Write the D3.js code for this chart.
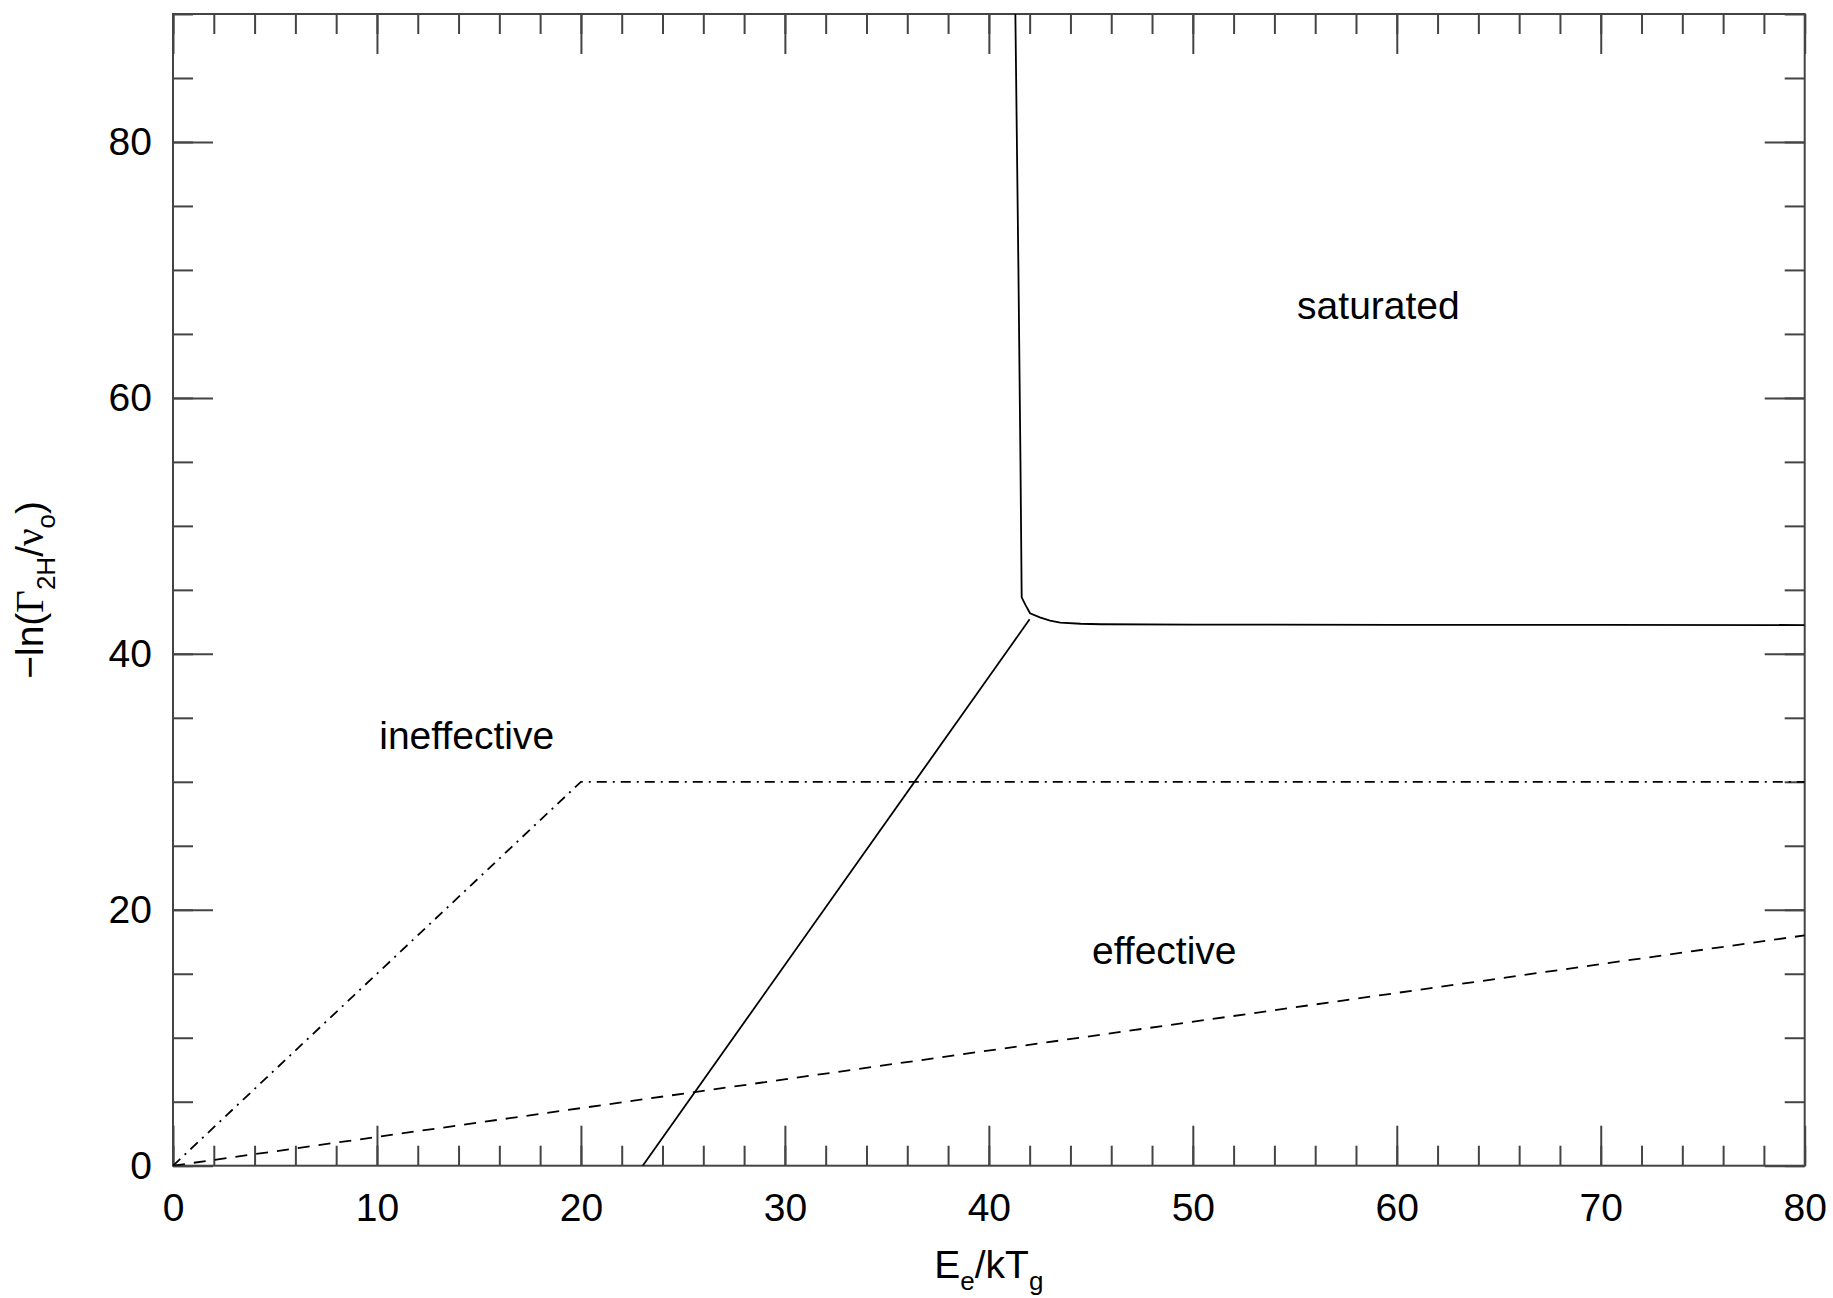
<!DOCTYPE html>
<html>
<head>
<meta charset="utf-8">
<script src="https://cdn.jsdelivr.net/npm/d3@7"></script>
<style>
  html, body { margin: 0; padding: 0; background: #fff; }
  svg { display: block; }
  text { font-family: "Liberation Sans", Arial, Helvetica, sans-serif; fill: #000; }
</style>
</head>
<body>
<script>
// ---- Data ----
const xDomain = [0, 80];
const yDomain = [0, 90];
const xMajorTicks = [0, 10, 20, 30, 40, 50, 60, 70, 80];
const xMinorTicks = d3.range(0, 81, 2);
const yMajorTicks = [0, 20, 40, 60, 80];
const yMinorTicks = d3.range(0, 91, 5);

// saturated boundary (solid curve)
const satX = [41.3, 41.45, 41.55, 41.61, 41.8, 42.02, 42.5, 43.0, 43.5, 44.5, 45.5, 50, 60, 70, 80];
const satY = [90, 70, 55, 44.42, 43.8, 43.17, 42.85, 42.6, 42.44, 42.35, 42.31, 42.28, 42.27, 42.26, 42.25];
// solid straight line
const solidX = [23.03, 42.0];
const solidY = [0, 42.7];
// dashed line
const dashX = [0, 80];
const dashY = [0, 18];
// dash-dot line
const dashDotX = [0, 20, 80];
const dashDotY = [0, 30, 30];

const labelText = ["saturated", "ineffective", "effective"];
const labelX = [59.1, 14.4, 48.6];
const labelY = [66.2, 32.55, 15.75];

// ---- Layout ----
const W = 1833, H = 1298;
const mLeft = 173, mRight = 1804.7, mTop = 14, mBottom = 1165.7;
const FS = 39;

const svg = d3.select("body").append("svg").attr("width", W).attr("height", H);
const x = d3.scaleLinear().domain(xDomain).range([mLeft, mRight]);
const y = d3.scaleLinear().domain(yDomain).range([mBottom, mTop]);

const axisColor = "#444";
const axisW = 2;

function styleAxis(g) {
  g.select(".domain").remove();
  g.selectAll(".tick line").attr("stroke", axisColor).attr("stroke-width", axisW);
  g.selectAll("text").style("font-size", FS + "px").style("font-family", '"Liberation Sans", Arial, sans-serif').attr("fill", "#000");
}

// minor ticks (all sides)
svg.append("g").attr("transform", `translate(0,${mBottom})`)
  .call(d3.axisBottom(x).tickValues(xMinorTicks).tickSize(-20).tickFormat("")).call(styleAxis);
svg.append("g").attr("transform", `translate(0,${mTop})`)
  .call(d3.axisTop(x).tickValues(xMinorTicks).tickSize(-20).tickFormat("")).call(styleAxis);
svg.append("g").attr("transform", `translate(${mLeft},0)`)
  .call(d3.axisLeft(y).tickValues(yMinorTicks).tickSize(-20).tickFormat("")).call(styleAxis);
svg.append("g").attr("transform", `translate(${mRight},0)`)
  .call(d3.axisRight(y).tickValues(yMinorTicks).tickSize(-20).tickFormat("")).call(styleAxis);

// major ticks with labels
svg.append("g").attr("transform", `translate(0,${mBottom})`)
  .call(d3.axisBottom(x).tickValues(xMajorTicks).tickSize(-40).tickPadding(28).tickFormat(d3.format("d"))).call(styleAxis);
svg.append("g").attr("transform", `translate(0,${mTop})`)
  .call(d3.axisTop(x).tickValues(xMajorTicks).tickSize(-40).tickFormat("")).call(styleAxis);
svg.append("g").attr("transform", `translate(${mLeft},0)`)
  .call(d3.axisLeft(y).tickValues(yMajorTicks).tickSize(-40).tickPadding(21).tickFormat(d3.format("d"))).call(styleAxis);
svg.append("g").attr("transform", `translate(${mRight},0)`)
  .call(d3.axisRight(y).tickValues(yMajorTicks).tickSize(-40).tickFormat("")).call(styleAxis);

// frame
svg.append("rect")
  .attr("x", mLeft).attr("y", mTop)
  .attr("width", mRight - mLeft).attr("height", mBottom - mTop)
  .attr("fill", "none").attr("stroke", axisColor).attr("stroke-width", axisW);

// ---- Lines ----
const line = d3.line().x(d => x(d[0])).y(d => y(d[1]));
const zip = (a, b) => a.map((v, i) => [v, b[i]]);

svg.append("clipPath").attr("id", "clip").append("rect")
  .attr("x", mLeft).attr("y", mTop).attr("width", mRight - mLeft).attr("height", mBottom - mTop);
const plot = svg.append("g").attr("clip-path", "url(#clip)");

plot.append("path").attr("d", line(zip(satX, satY)))
  .attr("fill", "none").attr("stroke", "#000").attr("stroke-width", 1.8);
plot.append("path").attr("d", line(zip(solidX, solidY)))
  .attr("fill", "none").attr("stroke", "#000").attr("stroke-width", 1.8);
plot.append("path").attr("d", line(zip(dashX, dashY)))
  .attr("fill", "none").attr("stroke", "#000").attr("stroke-width", 1.8)
  .attr("stroke-dasharray", "12,9");
plot.append("path").attr("d", line(zip(dashDotX, dashDotY)))
  .attr("fill", "none").attr("stroke", "#000").attr("stroke-width", 1.8)
  .attr("stroke-dasharray", "10,6,2,6");

// region labels
svg.append("g").selectAll("text").data(labelText).join("text")
  .attr("x", (d, i) => x(labelX[i]))
  .attr("y", (d, i) => y(labelY[i]))
  .attr("text-anchor", "middle")
  .style("font-size", FS + "px")
  .text(d => d);

// ---- Axis titles ----
const xt = svg.append("text")
  .attr("x", (mLeft + mRight) / 2).attr("y", 1278)
  .attr("text-anchor", "middle")
  .style("font-size", FS + "px");
xt.append("tspan").text("E");
xt.append("tspan").attr("dy", 12).style("font-size", "26px").text("e");
xt.append("tspan").attr("dy", -12).text("/kT");
xt.append("tspan").attr("dy", 12).style("font-size", "26px").text("g");

const yt = svg.append("text")
  .attr("transform", `translate(43,${(mTop + mBottom) / 2}) rotate(-90)`)
  .attr("text-anchor", "middle")
  .style("font-size", FS + "px");
yt.append("tspan").text("−ln(");
yt.append("tspan").style("font-family", '"Liberation Serif", "Times New Roman", serif').text("Γ");
yt.append("tspan").attr("dy", 12).style("font-size", "26px").text("2H");
yt.append("tspan").attr("dy", -12).text("/");
yt.append("tspan").style("font-family", '"Liberation Serif", "Times New Roman", serif').text("ν");
yt.append("tspan").attr("dy", 12).style("font-size", "26px").text("o");
yt.append("tspan").attr("dy", -12).text(")");
</script>
</body>
</html>
